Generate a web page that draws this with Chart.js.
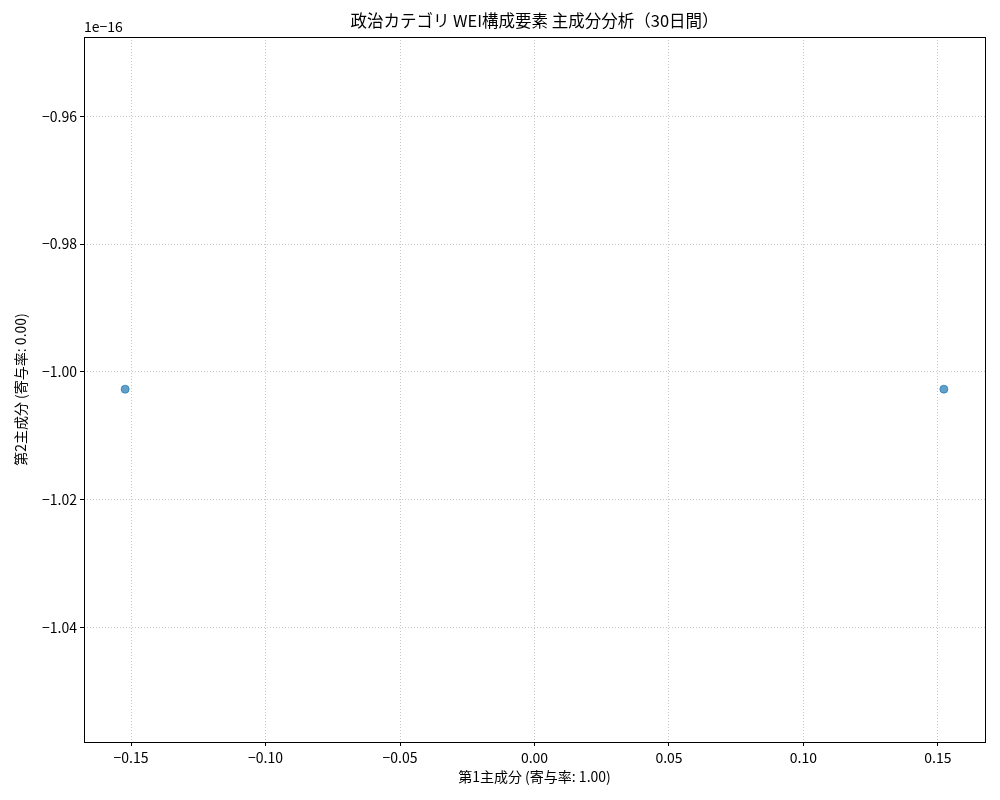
<!DOCTYPE html>
<html>
<head>
<meta charset="utf-8">
<script src="https://cdn.jsdelivr.net/npm/chart.js@4"></script>
<style>
  html, body { margin: 0; padding: 0; background: #fff; }
  canvas { display: block; }
</style>
</head>
<body>
<canvas id="pca" width="1000" height="800"></canvas>
<script>
// ── DATA ──
const pc1 = [-0.1522, 0.1522];          // 第1主成分
const pc2 = [-1.0027, -1.0027];         // 第2主成分 (×1e-16)
const yOffsetLabel = '1e\u221216';

const xTicks = [-0.15, -0.10, -0.05, 0.00, 0.05, 0.10, 0.15];
const yTicks = [-0.96, -0.98, -1.00, -1.02, -1.04];

const titleText = '政治カテゴリ WEI構成要素 主成分分析（30日間）';
const xLabel = '第1主成分 (寄与率: 1.00)';
const yLabel = '第2主成分 (寄与率: 0.00)';

const FONT = '"Noto Sans CJK JP", "Noto Sans", sans-serif';
const fmt = v => (v < 0 ? '\u2212' : '') + Math.abs(v).toFixed(2);

// ── PLOT AREA LAYOUT ──
const AREA = { left: 84, right: 985, top: 37, bottom: 742 };

const framePlugin = {
  id: 'frame',
  afterDraw(chart) {
    const { ctx, chartArea: a } = chart;
    ctx.save();
    ctx.strokeStyle = '#000';
    ctx.lineWidth = 1;
    ctx.strokeRect(Math.round(a.left) + 0.5, Math.round(a.top) + 0.5,
                   Math.round(a.right - a.left), Math.round(a.bottom - a.top));
    // title
    ctx.fillStyle = '#000';
    ctx.font = '16.5px ' + FONT;
    ctx.textAlign = 'center';
    ctx.textBaseline = 'middle';
    ctx.fillText(titleText, (a.left + a.right) / 2, 21);
    // offset label
    ctx.font = '14px ' + FONT;
    ctx.textAlign = 'left';
    ctx.textBaseline = 'alphabetic';
    ctx.fillText(yOffsetLabel, a.left, 32);
    ctx.restore();
  }
};

const gridStyle = {
  color: 'rgba(176,176,176,0.7)',
  lineWidth: 1,
  tickColor: '#000',
  tickLength: 4,
  tickWidth: 1,
  tickBorderDash: [],
  drawOnChartArea: true
};

new Chart(document.getElementById('pca'), {
  type: 'scatter',
  data: {
    datasets: [{
      data: pc1.map((x, i) => ({ x, y: pc2[i] })),
      backgroundColor: 'rgba(31,119,180,0.7)',
      borderColor: 'rgba(31,119,180,0.7)',
      borderWidth: 1,
      pointRadius: 4,
      pointHoverRadius: 4
    }]
  },
  options: {
    responsive: false,
    devicePixelRatio: 1,
    animation: false,
    layout: { padding: { left: 0, top: AREA.top, right: 1000 - AREA.right, bottom: 0 } },
    plugins: { legend: { display: false }, tooltip: { enabled: false }, title: { display: false } },
    scales: {
      x: {
        type: 'linear',
        min: -0.1675, max: 0.1675,
        grid: gridStyle,
        border: { display: false, dash: [1, 2] },
        afterBuildTicks: s => { s.ticks = xTicks.map(v => ({ value: v })); },
        afterFit: s => { s.height = 800 - AREA.bottom; },
        ticks: {
          color: '#000', padding: 3, maxRotation: 0, autoSkip: false,
          font: { family: FONT, size: 14 },
          callback: v => fmt(v)
        },
        title: {
          display: true, text: xLabel, color: '#000',
          font: { family: FONT, size: 14 },
          padding: { top: 4, bottom: 15 }
        }
      },
      y: {
        type: 'linear',
        min: -1.0579, max: -0.9476,
        grid: gridStyle,
        border: { display: false, dash: [1, 2] },
        afterBuildTicks: s => { s.ticks = yTicks.map(v => ({ value: v })); },
        afterFit: s => { s.width = AREA.left; },
        ticks: {
          color: '#000', padding: 3, autoSkip: false,
          font: { family: FONT, size: 14 },
          callback: v => fmt(v)
        },
        title: {
          display: true, text: yLabel, color: '#000',
          font: { family: FONT, size: 14 },
          padding: { top: 12, bottom: 0 }
        }
      }
    }
  },
  plugins: [framePlugin]
});
</script>
</body>
</html>
